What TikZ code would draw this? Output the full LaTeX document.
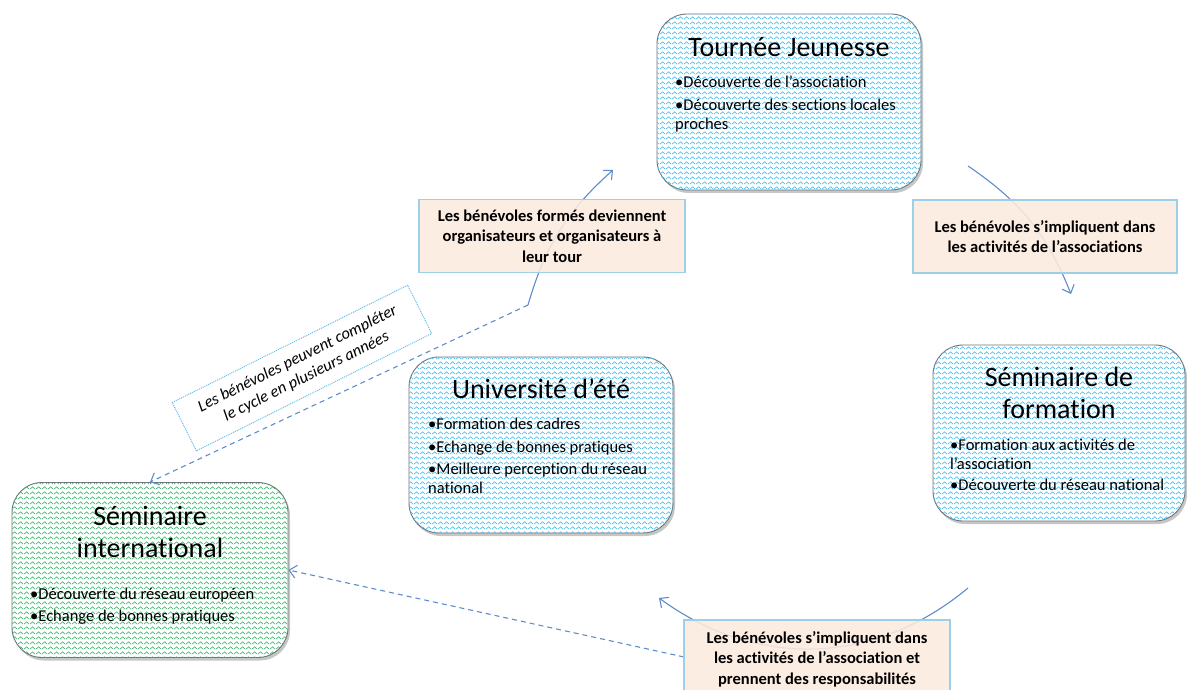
\documentclass[tikz,border=0pt]{standalone}
\usepackage{fontspec}
\setmainfont{Carlito}[Ligatures=NoCommon]
\usetikzlibrary{positioning}
\usetikzlibrary{arrows.meta}
\usetikzlibrary{shadows}
\usetikzlibrary{patterns.meta}

\definecolor{zigbleu}{RGB}{88,192,235}
\definecolor{zigvert}{RGB}{75,185,120}
\definecolor{cadre}{RGB}{110,115,120}
\definecolor{fleche}{RGB}{95,140,205}
\definecolor{peche}{RGB}{252,234,222}
\definecolor{bordpeche}{RGB}{155,208,232}
\definecolor{pointille}{RGB}{95,190,230}

\tikzdeclarepattern{
	name=zigzag,
	type=uncolored,
	bounding box={(0pt,0pt) and (6pt,5pt)},
	tile size={(6pt,5pt)},
	code={\draw[line width=0.8pt] (0pt,1pt) -- (3pt,3.8pt) -- (6pt,1pt);}
}

\begin{document}
\begin{tikzpicture}[x=1pt,y=-1pt,>={Straight Barb[length=7pt,width=13pt]},
	etape/.style={draw=cadre, line width=0.9pt, rounded corners=30pt, fill=white,
		drop shadow={shadow xshift=2pt, shadow yshift=-3pt, opacity=0.45},
		postaction={pattern=zigzag, pattern color=#1}},
	etape/.default=zigbleu,
	titre/.style={anchor=north, align=center, inner sep=0pt,
		font=\fontsize{28}{32}\selectfont},
	liste/.style={anchor=north west, align=left, inner sep=0pt,
		font=\fontsize{16.5}{19}\selectfont},
	lien/.style={draw=bordpeche, line width=1.2pt, fill=peche, fill opacity=0.88, text opacity=1,
		minimum width=266pt, minimum height=73pt, align=center,
		font=\fontsize{16.5}{20.5}\selectfont\bfseries},
	cycle/.style={->, draw=fleche, line width=1.1pt},
	saut/.style={->, draw=fleche, line width=1.1pt, dash pattern=on 5pt off 4pt}]
	\useasboundingbox (0,0) rectangle (1187,690);

	\node (tour) [etape, minimum width=264pt, minimum height=176pt] at (789,102) {};
	\node (tourT) [titre] at (789,37) {Tournée Jeunesse};
	\node (tourL) [liste] at (675,76) {•Découverte de l’association\\[3.5pt]•Découverte des sections locales\\proches};

	\node (univ) [etape, minimum width=264pt, minimum height=176pt] at (541,445) {};
	\node (univT) [titre] at (541,379) {Université d’été};
	\node (univL) [liste] at (428,418) {•Formation des cadres\\[3.5pt]•Echange de bonnes pratiques\\[3.5pt]•Meilleure perception du réseau\\national};

	\node (semf) [etape, minimum width=252pt, minimum height=176pt] at (1059,433) {};
	\node (semfT) [titre] at (1059,367) {Séminaire de\\formation};
	\node (semfL) [liste] at (950,438.5) {•Formation aux activités de\\l’association\\[2.5pt]•Découverte du réseau national};

	\node (semi) [etape=zigvert, minimum width=276pt, minimum height=175pt] at (150,570) {};
	\node (semiT) [titre] at (150,506) {Séminaire\\international};
	\node (semiL) [liste] at (30,588) {•Découverte du réseau européen\\[2.5pt]•Echange de bonnes pratiques};

	\coordinate (c1) at (968,166);
	\coordinate (c2) at (1071,294);
	\coordinate (c3) at (968,588);
	\coordinate (c4) at (659,598);
	\coordinate (c5) at (528,305);
	\coordinate (c6) at (613,170);
	\coordinate (respW) at (684,657);

	\draw [cycle] (c1) to[bend left=17] (c2);
	\draw [cycle] (c3) to[bend left=38] (c4);
	\draw [cycle] (c5) to[bend left=16] (c6);
	\draw [saut] (c5) -- (semi.north);
	\draw [saut] (respW) -- (semi.east);

	\node (form) [lien] at (552,236) {Les bénévoles formés deviennent\\organisateurs et organisateurs à\\leur tour};
	\node (impl) [lien, minimum width=264pt] at (1045,236.5) {Les bénévoles s’impliquent dans\\les activités de l’associations};
	\node (resp) [lien, minimum height=78pt] at (817,659) {Les bénévoles s’impliquent dans\\les activités de l’association et\\prennent des responsabilités};
	\node (note) [draw=pointille, densely dotted, line width=1pt, rotate=26.5, minimum width=263pt,
		minimum height=54pt, align=center, font=\fontsize{16.5}{20}\selectfont\itshape] at (302,368)
		{Les bénévoles peuvent compléter\\le cycle en plusieurs années};
\end{tikzpicture}
\end{document}
